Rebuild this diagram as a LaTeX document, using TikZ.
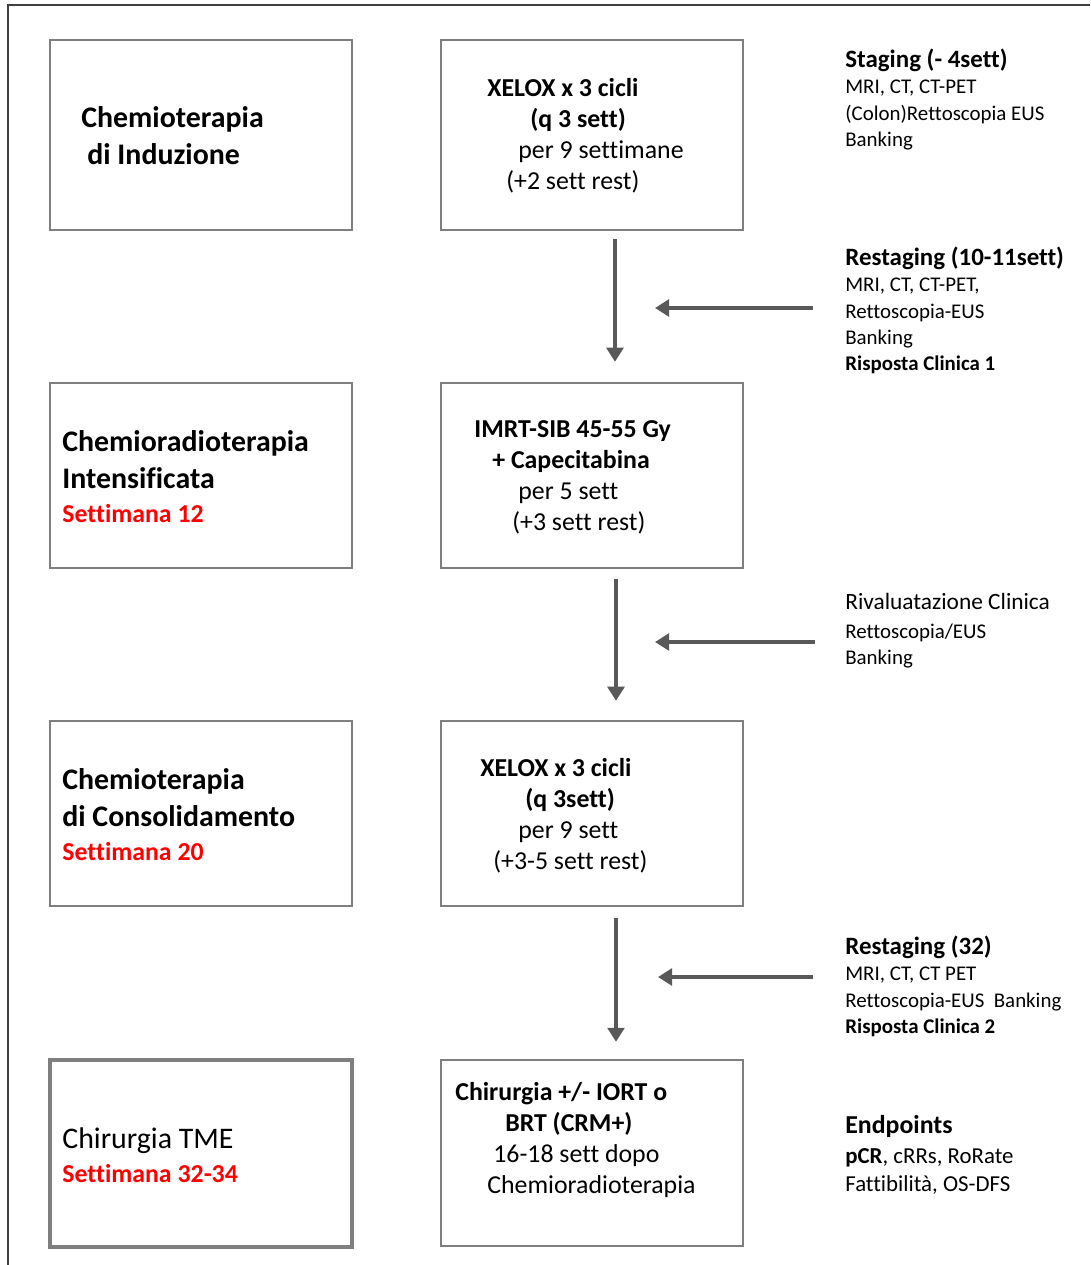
\documentclass[tikz,border=0pt]{standalone}
\usepackage{fontspec}
\setmainfont{Carlito}[Ligatures=NoCommon]
\usetikzlibrary{arrows.meta}

\definecolor{boxgray}{HTML}{7F7F7F}
\definecolor{arrgray}{HTML}{595959}
\definecolor{framegray}{HTML}{404040}
\definecolor{settred}{HTML}{FF0000}

\newcommand{\bigf}{\fontsize{17}{21}\selectfont}
\newcommand{\midf}{\fontsize{14.7}{17.6}\selectfont}
\newcommand{\smf}{\fontsize{11.9}{15}\selectfont}
\newcommand{\hdf}{\fontsize{14.2}{15}\selectfont\bfseries}
\newcommand{\sett}[1]{{\color{settred}\midf\bfseries #1}}

\begin{document}
\begin{tikzpicture}[x=0.02cm, y=-0.02cm,
  box/.style={draw=boxgray, line width=1.4pt, inner sep=0pt, minimum width=6.04cm},
  txt/.style={anchor=north west, inner sep=0pt, align=left},
  flow/.style={draw=arrgray, line width=2pt, -{Triangle[width=9.5pt,length=8pt]}},
]
\useasboundingbox (0,0) rectangle (1090,1265);
\draw[framegray, line width=1.2pt] (8,1265) -- (8,5) -- (1090,5);

% phases
\node[box, minimum height=3.8cm] (b1) at (201,135) {};
\node[box, minimum height=3.7cm] (b2) at (201,475.5) {};
\node[box, minimum height=3.7cm] (b3) at (201,813.5) {};
\node[box, line width=2.5pt, minimum height=3.74cm] (b4) at (201,1153.5) {};

\node[txt, font=\bigf\bfseries] (t1) at (81,106) {Chemioterapia\\\hspace*{0.12cm}di Induzione};
\node[txt, font=\bigf\bfseries] (t2) at (62,430) {Chemioradioterapia\\Intensificata\\[-1.6pt]\sett{Settimana 12}};
\node[txt, font=\bigf\bfseries] (t3) at (62,768) {Chemioterapia\\di Consolidamento\\[-1.6pt]\sett{Settimana 20}};
\node[txt, font=\bigf] (t4) at (62,1127) {Chirurgia TME\\[-1.6pt]\sett{Settimana 32-34}};

% treatments
\node[box, minimum height=3.8cm] (m1) at (592,135) {};
\node[box, minimum height=3.7cm] (m2) at (592,475.5) {};
\node[box, minimum height=3.7cm] (m3) at (592,813.5) {};
\node[box, minimum height=3.72cm] (m4) at (592,1153) {};

\node[txt, font=\midf] (x1) at (487,78) {\textbf{XELOX x 3 cicli}\\\hspace*{0.86cm}\textbf{(q 3 sett)}\\\hspace*{0.62cm}per 9 settimane\\\hspace*{0.38cm}(+2 sett rest)};
\node[txt, font=\midf] (x2) at (474,420) {\textbf{IMRT-SIB 45-55 Gy}\\\hspace*{0.36cm}\textbf{+ Capecitabina}\\\hspace*{0.88cm}per 5 sett\\\hspace*{0.76cm}(+3 sett rest)};
\node[txt, font=\midf] (x3) at (480,758) {\textbf{XELOX x 3 cicli}\\\hspace*{0.9cm}\textbf{(q 3sett)}\\\hspace*{0.76cm}per 9 sett\\\hspace*{0.26cm}(+3-5 sett rest)};
\node[txt, font=\midf] (x4) at (455,1082) {\textbf{Chirurgia +/- IORT o}\\\hspace*{1.0cm}\textbf{BRT (CRM+)}\\\hspace*{0.76cm}16-18 sett dopo\\\hspace*{0.64cm}Chemioradioterapia};

\draw[flow, shorten <=0.16cm, shorten >=0.4cm] ([xshift=0.46cm]m1.south) -- ([xshift=0.46cm]m2.north);
\draw[flow, shorten <=0.2cm, shorten >=0.38cm] ([xshift=0.48cm]m2.south) -- ([xshift=0.48cm]m3.north);
\draw[flow, shorten <=0.22cm, shorten >=0.34cm] ([xshift=0.48cm]m3.south) -- ([xshift=0.48cm]m4.north);

% evaluations
\node[txt, font=\smf] (s1) at (845,49) {{\hdf Staging (- 4sett)}\\[-0.2pt]MRI, CT, CT-PET\\(Colon)Rettoscopia EUS\\Banking};
\node[txt, font=\smf] (s2) at (845,247) {{\hdf Restaging (10-11sett)}\\[-0.2pt]MRI, CT, CT-PET,\\Rettoscopia-EUS\\Banking\\\textbf{Risposta Clinica 1}};
\node[txt, font=\smf] (s3) at (845,593) {{\fontsize{13.3}{15}\selectfont Rivaluatazione Clinica}\\[1.5pt]Rettoscopia/EUS\\Banking};
\node[txt, font=\smf] (s4) at (845,936) {{\hdf Restaging (32)}\\[-0.2pt]MRI, CT, CT PET\\Rettoscopia-EUS\ \ Banking\\\textbf{Risposta Clinica 2}};
\node[txt, font=\fontsize{13}{16.4}\selectfont] (s5) at (845,1115) {{\fontsize{14.7}{16}\selectfont\bfseries Endpoints}\\[0.5pt]\textbf{pCR}, cRRs, RoRate\\Fattibilità, OS-DFS};

\coordinate (h1) at (813,308);
\coordinate (h1e) at (655,308);
\coordinate (h2) at (815,642);
\coordinate (h2e) at (655,642);
\coordinate (h3) at (813,977);
\coordinate (h3e) at (658,977);
\draw[flow] (h1) -- (h1e);
\draw[flow] (h2) -- (h2e);
\draw[flow] (h3) -- (h3e);

\end{tikzpicture}
\end{document}
